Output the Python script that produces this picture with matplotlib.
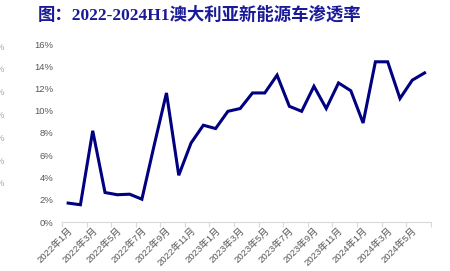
import matplotlib
matplotlib.use("Agg")
import matplotlib.pyplot as plt
from matplotlib.ticker import FuncFormatter, FixedLocator

plt.rcParams['font.family'] = ['Liberation Sans', 'Noto Sans CJK SC', 'DejaVu Sans']

title = "图：2022-2024H1澳大利亚新能源车渗透率"
months = [f"{y}年{m}月" for y, ms in ((2022, range(1, 13)), (2023, range(1, 13)), (2024, range(1, 7))) for m in ms]
penetration = [1.7, 1.55, 8.2, 2.65, 2.45, 2.5, 2.05, 6.9, 11.6, 4.2,
               7.1, 8.7, 8.4, 9.95, 10.2, 11.6, 11.6, 13.2, 10.4, 9.95,
               12.2, 10.2, 12.5, 11.8, 8.9, 14.4, 14.4, 11.1, 12.75, 13.4]
y_ticks = [0, 2, 4, 6, 8, 10, 12, 14, 16]

fig = plt.figure(figsize=(4.5, 2.71), dpi=100)
ax = fig.add_axes([62/450, 1-222/271, (430.7-62)/450, (222-44)/271])

x = list(range(len(months)))
ax.plot(x, penetration, color='#000080', linewidth=2.2, solid_joinstyle='miter', clip_on=False)

ax.set_xlim(-0.5, len(months) - 0.5)
ax.set_ylim(0, 16)
ax.set_yticks(y_ticks)
ax.yaxis.set_major_formatter(FuncFormatter(lambda v, p: f"{v:.0f}%"))
ax.tick_params(axis='y', length=0, labelsize=6.8, labelcolor='#595959', pad=6)

ax.xaxis.set_major_locator(FixedLocator([i - 0.5 for i in range(0, len(months) + 1, 2)]))
ax.set_xticklabels([])
ax.tick_params(axis='x', which='major', length=3.5, color='#d9d9d9', width=0.8)
ax.xaxis.set_minor_locator(FixedLocator(x[::2]))
ax.set_xticklabels([months[i] for i in x[::2]], minor=True)
ax.tick_params(axis='x', which='minor', length=0, labelsize=6.8, labelcolor='#595959', pad=3)
for lbl in ax.get_xticklabels(minor=True):
    lbl.set_rotation(45)
    lbl.set_ha('right')
    lbl.set_va('top')
    lbl.set_rotation_mode('anchor')

for s in ('top', 'right', 'left'):
    ax.spines[s].set_visible(False)
ax.spines['bottom'].set_color('#d9d9d9')
ax.spines['bottom'].set_linewidth(0.8)

fig.text(38/450, 1-14.5/271, title, fontsize=12.5, fontweight='bold', color='#1a1a99',
         family=['Liberation Serif', 'Noto Sans CJK SC'], va='center', ha='left')

# partial leftover labels at the left edge
for yy in [47, 69.5, 92.5, 116, 138.5, 161.5, 184]:
    fig.text(-4/450, 1-yy/271, "%", fontsize=6.8, color='#a6a6a6', va='center', ha='left')

fig.savefig("out.png", dpi=100)
